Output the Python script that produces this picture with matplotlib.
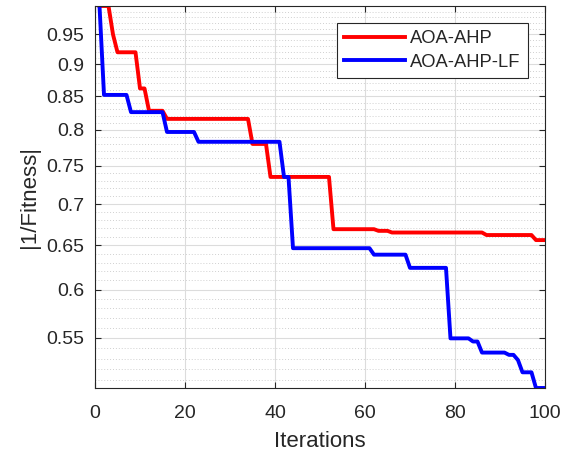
import numpy as np
import matplotlib
matplotlib.use("Agg")
import matplotlib.pyplot as plt
from matplotlib.ticker import FixedLocator, FixedFormatter, NullFormatter

plt.rcParams["font.family"] = ["Liberation Sans", "DejaVu Sans"]

# vertices of the convergence curves (iteration, |1/Fitness|)
aoa_ahp_iter = [1, 3, 4, 5, 9, 10, 11, 12, 15, 16, 34, 35, 38, 39, 52, 53,
                62, 63, 65, 66, 86, 87, 97, 98, 100]
aoa_ahp_val = [1.0, 1.0, 0.95, 0.92, 0.92, 0.862, 0.862, 0.828, 0.828, 0.816,
               0.816, 0.780, 0.780, 0.735, 0.735, 0.669, 0.669, 0.667, 0.667,
               0.665, 0.665, 0.662, 0.662, 0.656, 0.656]

aoa_lf_iter = [1, 2, 7, 8, 15, 16, 22, 23, 41, 42, 43, 44, 61, 62, 69, 70, 78,
               79, 83, 84, 85, 86, 91, 92, 93, 94, 95, 97, 98, 100]
aoa_lf_val = [1.0, 0.852, 0.852, 0.826, 0.826, 0.797, 0.797, 0.783, 0.783,
              0.735, 0.735, 0.6465, 0.6465, 0.639, 0.639, 0.624, 0.624, 0.5496,
              0.5496, 0.5465, 0.5465, 0.5357, 0.5357, 0.5335, 0.5335, 0.5285,
              0.517, 0.517, 0.5026, 0.5026]

y_major = [0.55, 0.6, 0.65, 0.7, 0.75, 0.8, 0.85, 0.9, 0.95]
y_labels = ["0.55", "0.6", "0.65", "0.7", "0.75", "0.8", "0.85", "0.9", "0.95"]
x_major = [0, 20, 40, 60, 80, 100]

txt = "#262626"
fig = plt.figure(figsize=(5.73, 4.53), dpi=100)
ax = fig.add_axes([0.1658, 0.1435, 0.7853, 0.8433])

ax.plot(aoa_ahp_iter, aoa_ahp_val, color="#ff0000", lw=2.8, label="AOA-AHP")
ax.plot(aoa_lf_iter, aoa_lf_val, color="#0000ff", lw=2.8, label="AOA-AHP-LF")

ax.set_yscale("log")
ymin = min(min(aoa_ahp_val), min(aoa_lf_val))
ymax = max(max(aoa_ahp_val), max(aoa_lf_val))
ax.set_ylim(ymin, ymax)
ax.set_xlim(0, 100)

ax.yaxis.set_major_locator(FixedLocator(y_major))
ax.yaxis.set_major_formatter(FixedFormatter(y_labels))
minors = [round(v, 2) for v in np.arange(0.51, 1.0, 0.01)
          if round(v, 2) not in y_major]
ax.yaxis.set_minor_locator(FixedLocator(minors))
ax.yaxis.set_minor_formatter(NullFormatter())
ax.xaxis.set_major_locator(FixedLocator(x_major))

ax.grid(True, which="major", color="#dcdcdc", lw=0.8, ls="-")
ax.grid(True, which="minor", axis="y", color="#d0d0d0", lw=0.7, ls=(0, (1, 2)))
ax.set_axisbelow(True)

ax.tick_params(which="major", direction="in", length=4, top=True, right=True,
               labelsize=14, colors=txt, width=0.8)
ax.tick_params(axis="x", which="major", pad=12)
ax.tick_params(axis="y", which="major", pad=8)
ax.tick_params(which="minor", length=0)
for s in ax.spines.values():
    s.set_color(txt)
    s.set_linewidth(0.8)

ax.set_xlabel("Iterations", fontsize=16, color=txt, labelpad=7)
ax.set_ylabel("|1/Fitness|", fontsize=16, color=txt, labelpad=4)

leg = ax.legend(loc="upper right", bbox_to_anchor=(0.962, 0.9555), fontsize=13.2,
                fancybox=False, edgecolor=txt, framealpha=1, handlelength=3.3,
                borderpad=0.4, labelspacing=0.35, handletextpad=0.3,
                borderaxespad=0.0)
leg.get_frame().set_linewidth(0.8)
for t in leg.get_texts():
    t.set_color(txt)

fig.savefig("out.png", dpi=100)
